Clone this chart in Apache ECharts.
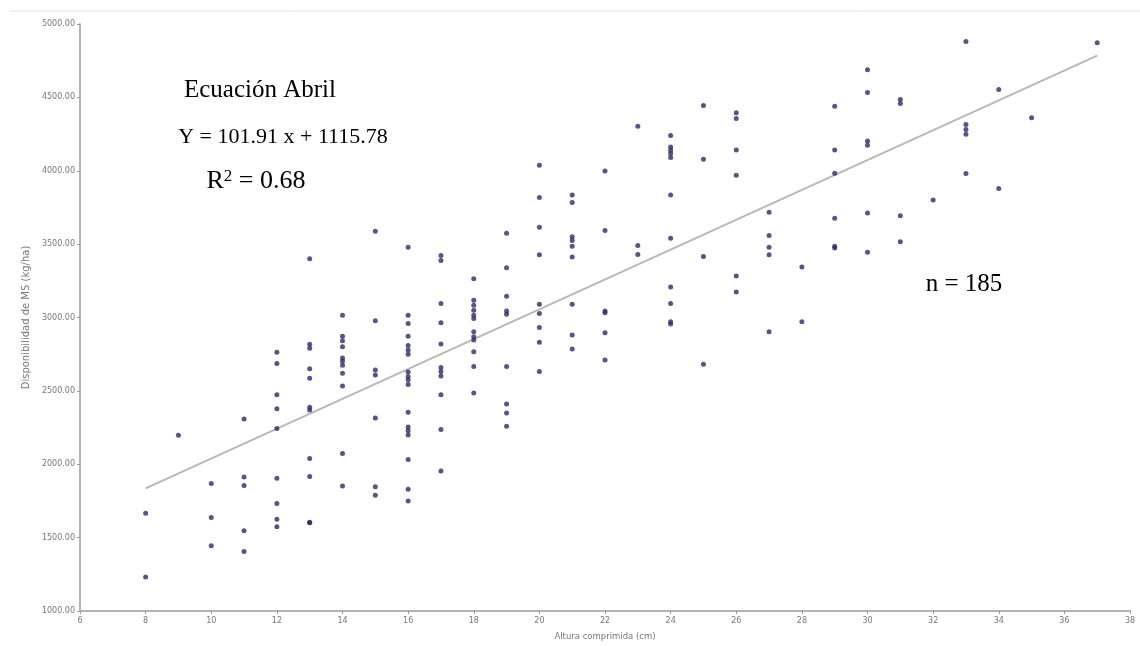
<!DOCTYPE html>
<html>
<head>
<meta charset="utf-8">
<script src="https://cdn.jsdelivr.net/npm/echarts@6/dist/echarts.min.js"></script>
<style>html,body{margin:0;padding:0;background:#fff}#c{width:1140px;height:646px}</style>
</head>
<body>
<div id="c"></div>
<script>
// Altura comprimida (cm) and the MS availability (kg/ha) values observed at each height
const alturas = [8, 9, 10, 11, 12, 13, 14, 15, 16, 17, 18, 19, 20, 21, 22, 23, 24, 25, 26, 27, 28, 29, 30, 31, 32, 33, 34, 35, 37];
const disponibilidad = [
  [1666, 1231],
  [2198],
  [1868, 1637, 1445],
  [2309, 1913, 1856, 1547, 1405],
  [2763, 2686, 2473, 2378, 2243, 1904, 1732, 1626, 1574],
  [3400, 2817, 2790, 2650, 2586, 2388, 2369, 2039, 1917, 1601, 1605],
  [3016, 2873, 2842, 2801, 2724, 2702, 2675, 2620, 2534, 2073, 1852],
  [3588, 2978, 2643, 2609, 2315, 1847, 1789],
  [3479, 3016, 2959, 2873, 2810, 2778, 2749, 2629, 2598, 2575, 2544, 2354, 2254, 2229, 2200, 2033, 1829, 1750],
  [3422, 3389, 3095, 2964, 2819, 2659, 2632, 2602, 2473, 2236, 1954],
  [3264, 3117, 3083, 3050, 3016, 2993, 2903, 2869, 2846, 2767, 2666, 2485],
  [3574, 3339, 3144, 3045, 3022, 2666, 2410, 2349, 2259],
  [4037, 3818, 3615, 3427, 3090, 3027, 2932, 2831, 2632],
  [3834, 3784, 3551, 3524, 3486, 3412, 3090, 2880, 2785],
  [3999, 3592, 3045, 3032, 2896, 2711],
  [4304, 3490, 3429],
  [4241, 4161, 4139, 4117, 4090, 3834, 3540, 3208, 3095, 2971, 2955],
  [4444, 4078, 3416, 2681],
  [4395, 4356, 4141, 3970, 3283, 3174],
  [3717, 3558, 3479, 3427, 2903],
  [3344, 2971],
  [4439, 4141, 3983, 3676, 3486, 3473],
  [4688, 4534, 4202, 4173, 3712, 3445],
  [4485, 4458, 3694, 3517],
  [3800],
  [4880, 4315, 4281, 4248, 3981],
  [4553, 3879],
  [4361],
  [4873]
];
// Regression line as drawn (end points)
const lineaX = [8, 37];
const lineaY = [1836, 4785];
// Texts
const tituloEcuacion = 'Ecuación Abril';
const textoEcuacion = 'Y = 101.91 x + 1115.78';
const textoR2 = '0.68';
const textoN = 'n = 185';
const nombreX = 'Altura comprimida (cm)';
const nombreY = 'Disponibilidad de MS (kg/ha)';

const puntos = [];
alturas.forEach((h, i) => disponibilidad[i].forEach(v => puntos.push([h, v])));
const linea = lineaX.map((x, i) => [x, lineaY[i]]);

const chart = echarts.init(document.getElementById('c'), null, {renderer: 'canvas'});
const axisCommon = {
  axisLine: {show: true, lineStyle: {color: '#b3b3b3', width: 2}},
  axisTick: {show: true, length: 3, lineStyle: {color: '#9a9a9a'}},
  splitLine: {show: false},
  axisLabel: {fontSize: 8, color: '#777', fontFamily: 'DejaVu Sans'}
};
chart.setOption({
  animation: false,
  backgroundColor: '#fff',
  grid: {left: 80, right: 10, top: 24, bottom: 32, containLabel: false},
  xAxis: Object.assign({}, axisCommon, {
    type: 'value', min: 6, max: 38, interval: 2,
    name: nombreX, nameLocation: 'middle', nameGap: 21,
    nameTextStyle: {fontSize: 8.5, color: '#777', fontFamily: 'DejaVu Sans'},
    axisLabel: Object.assign({}, axisCommon.axisLabel, {margin: 6})
  }),
  yAxis: Object.assign({}, axisCommon, {
    type: 'value', min: 1000, max: 5000, interval: 500,
    name: nombreY, nameLocation: 'middle', nameGap: 38,
    nameTextStyle: {fontSize: 10, color: '#777', fontFamily: 'DejaVu Sans'},
    axisLabel: Object.assign({}, axisCommon.axisLabel, {margin: 5, formatter: v => v.toFixed(2)})
  }),
  series: [
    {
      type: 'line', data: linea, symbol: 'none', silent: true, z: 1,
      lineStyle: {color: '#b8b8b8', width: 2}
    },
    {
      type: 'scatter', data: puntos, symbol: 'circle', symbolSize: 5, z: 2,
      itemStyle: {color: '#2c2c66'}
    }
  ],
  graphic: [
    {type: 'line', shape: {x1: 10, y1: 11, x2: 1140, y2: 11}, style: {stroke: '#e4e4e4', lineWidth: 1}, silent: true},
    {type: 'text', x: 260, y: 90, style: {text: tituloEcuacion, font: '25px "Liberation Serif"', fill: '#000', textAlign: 'center', textVerticalAlign: 'middle', align: 'center', verticalAlign: 'middle'}},
    {type: 'text', x: 283, y: 137, style: {text: textoEcuacion, font: '22px "Liberation Serif"', fill: '#000', textAlign: 'center', textVerticalAlign: 'middle', align: 'center', verticalAlign: 'middle'}},
    {type: 'text', x: 256, y: 181, style: {
      text: '{r|R}{s|2}{r| = ' + textoR2 + '}',
      rich: {
        r: {fontSize: 26, fontFamily: 'Liberation Serif', fill: '#000', color: '#000'},
        s: {fontSize: 17, fontFamily: 'Liberation Serif', fill: '#000', color: '#000', verticalAlign: 'top'}
      },
      textAlign: 'center', textVerticalAlign: 'middle', align: 'center', verticalAlign: 'middle'}},
    {type: 'text', x: 964, y: 284, style: {text: textoN, font: '25px "Liberation Serif"', fill: '#000', textAlign: 'center', textVerticalAlign: 'middle', align: 'center', verticalAlign: 'middle'}}
  ]
});
</script>
</body>
</html>
